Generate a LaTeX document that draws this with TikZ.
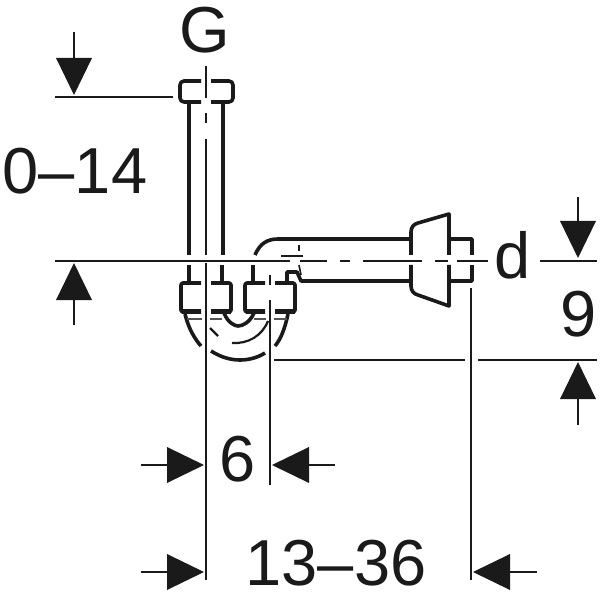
\documentclass[tikz,border=0pt]{standalone}
\usepackage{fontspec}
\setmainfont{Liberation Sans}
\tikzset{
  thick line/.style={line width=3.6pt,line join=round,color=ink},
  med line/.style={line width=2.2pt,color=ink},
  thin line/.style={line width=1.6pt,color=ink},
  dimtext/.style={font=\fontsize{65}{65}\selectfont,color=ink,inner sep=0pt,anchor=center},
  tri/.style={fill=ink,draw=none}
}
\definecolor{ink}{HTML}{1A1A1A}
\newcommand{\arrowdown}[3]{% x, stem-top, tip y
  \draw[thin line] (#1,#2) -- (#1,#3-30);
  \fill[tri] (#1-18,#3-37) -- (#1+18,#3-37) -- (#1,#3) -- cycle;}
\newcommand{\arrowup}[3]{% x, stem-bottom, tip y
  \draw[thin line] (#1,#2) -- (#1,#3+30);
  \fill[tri] (#1-18,#3+37) -- (#1+18,#3+37) -- (#1,#3) -- cycle;}
\newcommand{\arrowright}[3]{% y, stem-left, tip x
  \draw[thin line] (#2,#1) -- (#3-30,#1);
  \fill[tri] (#3-37,#1-18) -- (#3-37,#1+18) -- (#3,#1) -- cycle;}
\newcommand{\arrowleft}[3]{% y, stem-right, tip x
  \draw[thin line] (#2,#1) -- (#3+30,#1);
  \fill[tri] (#3+37,#1-18) -- (#3+37,#1+18) -- (#3,#1) -- cycle;}
\begin{document}
\begin{tikzpicture}[x=1pt,y=-1pt]
\useasboundingbox (0,0) rectangle (600,596);
% tube
\draw[thick line] (189,102) -- (189,255) (189,265) -- (189,283);
\draw[thick line] (223,102) -- (223,255) (222,265) -- (222,283);
% top cap
\draw[thick line,rounded corners=4pt] (201,81) -- (180,81) -- (180,102) -- (201,102);
\draw[thick line,rounded corners=4pt] (211,81) -- (233,81) -- (233,102) -- (211,102);
% left nut
\draw[thick line,rounded corners=2pt] (201,283) -- (181,283) -- (181,312) -- (201,312);
\draw[thick line,rounded corners=2pt] (211,283) -- (231,283) -- (231,312) -- (211,312);
\draw[line width=5pt,color=ink] (182,311) -- (201,311) (211,311) -- (231,311);
% right nut
\draw[thick line,rounded corners=2pt] (265,283) -- (245,283) -- (245,312) -- (265,312);
\draw[thick line,rounded corners=2pt] (275,283) -- (295,283) -- (295,312) -- (275,312);
\draw[line width=5pt,color=ink] (246,311) -- (265,311) (275,311) -- (295,311);
% U bend inner
\draw[thick line] (224,313) .. controls (228,323) and (235,326) .. (238,326) .. controls (243,326) and (250,322) .. (254,313);
% outer bend
\draw[thick line] (185,314) .. controls (189,330) and (195,339) .. (201,346);
\draw[thick line] (211,351) .. controls (222,358) and (232,360) .. (240,360) .. controls (248,360) and (257,358) .. (265,353);
\draw[thick line] (275,346) .. controls (281,339) and (285,328) .. (288,314);
% inner arc
\draw[med line] (232,343) .. controls (248,344) and (262,336) .. (268,321);
\draw[med line] (210,328) -- (218,336);
% thin dashes across flange
\draw[thin line,color=ink!75] (187,319) -- (202,319) (210,319) -- (222,319) (254,319) -- (266,319) (274,319) -- (287,319);
% right elbow pipe
\draw[thick line] (255,255) .. controls (260,243) and (268,239) .. (278,239) -- (411,239);
\draw[thick line] (253,265) -- (253,283);
\draw[thick line] (287,283) -- (287,272) -- (297,272) -- (301,281) -- (411,281);
\draw[thin line] (299,245) -- (299,251) (281,256) -- (303,256);
\draw[thin line] (299,265) -- (301,275);
% flange
\draw[thick line] (411,255) -- (411,232) .. controls (411,227) and (414,224) .. (418,223) -- (449,214) -- (449,255);
\draw[thick line] (411,265) -- (411,286) .. controls (411,291) and (414,294) .. (418,295) -- (449,306) -- (449,265);
% small end cap
\draw[thick line] (449,239) -- (472,239) -- (472,255);
\draw[thick line] (449,281) -- (472,281) -- (472,265);
% axes
\draw[thin line] (206,66) -- (206,98) (206,113) -- (206,123) (206,139) -- (206,255);
\draw[thin line] (206,263) -- (206,580);
\draw[thin line] (270,275) -- (270,285) (270,300) -- (270,335);
\draw[thin line] (270,335) -- (270,485);
\draw[thin line] (471,288) -- (471,580);
% horizontal lines
\draw[thin line] (55,261) -- (290,261) (300,261) -- (327,261) (340,261) -- (350,261) (363,261) -- (422,261) (435,261) -- (448,261) (457,261) -- (488,261);
\draw[thin line] (540,261) -- (597,261);
\draw[thin line] (55,97) -- (173,97);
\draw[thin line] (274,360) -- (465,360) (478,360) -- (597,360);
% arrows
\arrowdown{74}{32}{95}
\arrowup{74}{325}{263}
\arrowdown{578}{197}{258}
\arrowup{578}{425}{362}
\arrowright{465}{141}{204}
\arrowleft{465}{335}{272}
\arrowright{572}{141}{204}
\arrowleft{572}{537}{473}
% texts
\node[dimtext] (g) at (205,30) {G};
\node[dimtext] (range) at (75,171) {0–14};
\node[dimtext] (dd) at (513,255) {d};
\node[dimtext] (nine) at (579,314) {9};
\node[dimtext] (six) at (238,459) {6};
\node[dimtext] (long) at (336,563) {13–36};
\end{tikzpicture}
\end{document}
